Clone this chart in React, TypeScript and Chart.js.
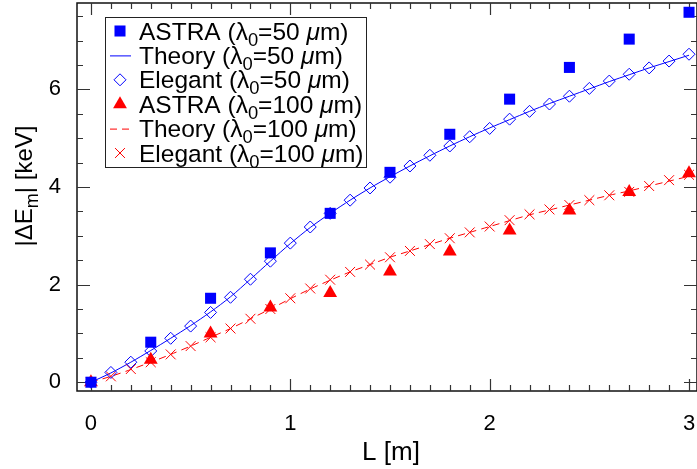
import React, { useEffect, useRef } from 'react';
import { Chart, registerables } from 'chart.js';
Chart.register(...registerables);

const FONT = '"Liberation Sans", Arial, sans-serif';

// ---- data ----
const L_ASTRA = [0, 0.3, 0.6, 0.9, 1.2, 1.5, 1.8, 2.1, 2.4, 2.7, 3.0];
const astra50 = [0, 0.82, 1.72, 2.65, 3.46, 4.3, 5.08, 5.8, 6.45, 7.03, 7.58];
const astra100 = [0, 0.46, 1.0, 1.53, 1.83, 2.27, 2.68, 3.11, 3.52, 3.9, 4.28];

const L_FINE = [0, 0.1, 0.2, 0.3, 0.4, 0.5, 0.6, 0.7, 0.8, 0.9, 1.0, 1.1, 1.2, 1.3, 1.4, 1.5, 1.6, 1.7, 1.8, 1.9, 2.0, 2.1, 2.2, 2.3, 2.4, 2.5, 2.6, 2.7, 2.8, 2.9, 3.0];
const elegant50 = [0, 0.2, 0.41, 0.64, 0.9, 1.15, 1.43, 1.74, 2.11, 2.48, 2.85, 3.18, 3.46, 3.73, 3.98, 4.2, 4.43, 4.65, 4.84, 5.03, 5.2, 5.39, 5.55, 5.7, 5.86, 6.02, 6.17, 6.31, 6.44, 6.58, 6.72];
const theory50 = [0, 0.19, 0.41, 0.65, 0.9, 1.16, 1.44, 1.75, 2.11, 2.48, 2.84, 3.17, 3.46, 3.73, 3.98, 4.21, 4.43, 4.64, 4.84, 5.03, 5.21, 5.38, 5.55, 5.71, 5.86, 6.01, 6.16, 6.3, 6.44, 6.57, 6.7];
const elegant100 = [0, 0.12, 0.27, 0.41, 0.57, 0.74, 0.92, 1.1, 1.3, 1.5, 1.72, 1.92, 2.1, 2.26, 2.41, 2.56, 2.69, 2.83, 2.95, 3.07, 3.19, 3.32, 3.44, 3.54, 3.63, 3.73, 3.83, 3.9, 4.02, 4.14, 4.25];
const theory100 = [0, 0.12, 0.26, 0.41, 0.57, 0.74, 0.92, 1.1, 1.3, 1.5, 1.71, 1.91, 2.09, 2.26, 2.41, 2.56, 2.69, 2.82, 2.95, 3.07, 3.19, 3.31, 3.43, 3.53, 3.63, 3.73, 3.83, 3.92, 4.02, 4.12, 4.22];

const LABELS = [
  'ASTRA (λ_0=50 μm)',
  'Theory (λ_0=50 μm)',
  'Elegant (λ_0=50 μm)',
  'ASTRA (λ_0=100 μm)',
  'Theory (λ_0=100 μm)',
  'Elegant (λ_0=100 μm)',
];

const X_TICKS = [0, 1, 2, 3];
const Y_TICKS = [0, 2, 4, 6];
const X_TITLE = 'L [m]';
const Y_TITLE = '|ΔE_m| [keV]';

const X_MIN = -0.07, X_MAX = 3.04, Y_MIN = -0.18, Y_MAX = 7.77;
const X_MINOR = 0.1, Y_MINOR = 0.5;

const BLUE = '#0000ff';
const RED = '#ff0000';

const pts = (xs: number[], ys: number[]) => xs.map((x, i) => ({ x, y: ys[i] }));

// rich text: "_c" => subscript char, μ => italic
function richWidth(ctx: CanvasRenderingContext2D, text: string, size: number) {
  let w = 0;
  for (let i = 0; i < text.length; i++) {
    let ch = text[i];
    if (ch === '_') {
      ch = text[++i];
      ctx.font = `${size * 0.75}px ${FONT}`;
    } else {
      ctx.font = ch === 'μ' ? `italic ${size}px ${FONT}` : `${size}px ${FONT}`;
    }
    w += ctx.measureText(ch).width;
  }
  return w;
}
function drawRich(ctx: CanvasRenderingContext2D, text: string, x: number, y: number, size: number) {
  let cx = x;
  for (let i = 0; i < text.length; i++) {
    let ch = text[i];
    let dy = 0;
    if (ch === '_') {
      ch = text[++i];
      ctx.font = `${size * 0.75}px ${FONT}`;
      dy = size * 0.25;
    } else {
      ctx.font = ch === 'μ' ? `italic ${size}px ${FONT}` : `${size}px ${FONT}`;
    }
    ctx.fillText(ch, cx, y + dy);
    cx += ctx.measureText(ch).width;
  }
}

const framePlugin = {
  id: 'frame',
  beforeDatasetsDraw(chart: any) {
    const { ctx, chartArea: a, scales } = chart;
    const xs = scales.x, ys = scales.y;
    ctx.save();
    ctx.strokeStyle = '#111';
    ctx.lineWidth = 1.5;
    ctx.strokeRect(a.left, a.top, a.right - a.left, a.bottom - a.top);
    ctx.lineWidth = 1.2;
    ctx.strokeStyle = '#333';
    ctx.beginPath();
    for (let v = Math.ceil(X_MIN / X_MINOR) * X_MINOR; v <= X_MAX + 1e-9; v += X_MINOR) {
      const r = Math.round(v * 10) / 10;
      const major = Math.abs(r - Math.round(r)) < 1e-6;
      const len = major ? 12 : 6;
      const px = Math.round(xs.getPixelForValue(r)) + 0.5;
      ctx.moveTo(px, a.bottom); ctx.lineTo(px, a.bottom - len);
      ctx.moveTo(px, a.top); ctx.lineTo(px, a.top + len);
    }
    for (let v = Math.ceil(Y_MIN / Y_MINOR) * Y_MINOR; v <= Y_MAX + 1e-9; v += Y_MINOR) {
      const major = Math.abs(v / 2 - Math.round(v / 2)) < 1e-6;
      const len = major ? 13 : 6;
      const py = Math.round(ys.getPixelForValue(v)) + 0.5;
      ctx.moveTo(a.left, py); ctx.lineTo(a.left + len, py);
      ctx.moveTo(a.right, py); ctx.lineTo(a.right - len, py);
    }
    ctx.stroke();
    ctx.restore();
  },
  afterDatasetsDraw(chart: any) {
    const { ctx, chartArea: a } = chart;
    ctx.save();
    ctx.fillStyle = '#000';
    ctx.textBaseline = 'alphabetic';
    // x title
    const xsize = 26;
    const xw = richWidth(ctx, X_TITLE, xsize);
    drawRich(ctx, X_TITLE, (a.left + a.right) / 2 + 4 - xw / 2, 460, xsize);
    // y title
    const ysize = 24;
    ctx.save();
    ctx.translate(32, 186);
    ctx.rotate(-Math.PI / 2);
    const yw = richWidth(ctx, Y_TITLE, ysize);
    drawRich(ctx, Y_TITLE, -yw / 2, 0, ysize);
    ctx.restore();

    // legend
    const bx = 105, by = 17, bw = 261, bh = 150;
    ctx.fillStyle = '#fff';
    ctx.fillRect(bx, by, bw, bh);
    ctx.strokeStyle = '#222';
    ctx.lineWidth = 1;
    ctx.strokeRect(bx + 0.5, by + 0.5, bw, bh);
    const ds = chart.data.datasets;
    const lsize = 24.5;
    for (let i = 0; i < 6; i++) {
      const d = ds[i];
      const cy = 31 + i * 24.4;
      const mx = 120;
      ctx.save();
      if (d.showLine) {
        ctx.strokeStyle = d.borderColor;
        ctx.lineWidth = 1;
        ctx.setLineDash(d.borderDash || []);
        ctx.beginPath();
        ctx.moveTo(110, cy + 0.5); ctx.lineTo(131, cy + 0.5);
        ctx.stroke();
      } else {
        const ps = d.pointStyle;
        const r = d.pointRadius;
        ctx.fillStyle = d.pointBackgroundColor;
        ctx.strokeStyle = d.pointBorderColor;
        ctx.lineWidth = d.pointBorderWidth;
        ctx.beginPath();
        if (ps === 'rect') {
          const s = Math.SQRT1_2 * r;
          ctx.rect(mx - s, cy - s, 2 * s, 2 * s);
          ctx.fill();
        } else if (ps === 'rectRot') {
          ctx.moveTo(mx - r, cy); ctx.lineTo(mx, cy - r); ctx.lineTo(mx + r, cy); ctx.lineTo(mx, cy + r); ctx.closePath();
          ctx.stroke();
        } else if (ps === 'triangle') {
          let ang = 0;
          ctx.moveTo(mx + Math.sin(ang) * r, cy - Math.cos(ang) * r);
          ang += (2 * Math.PI) / 3;
          ctx.lineTo(mx + Math.sin(ang) * r, cy - Math.cos(ang) * r);
          ang += (2 * Math.PI) / 3;
          ctx.lineTo(mx + Math.sin(ang) * r, cy - Math.cos(ang) * r);
          ctx.closePath();
          ctx.fill();
        } else if (ps === 'crossRot') {
          const o = Math.SQRT1_2 * r;
          ctx.moveTo(mx - o, cy - o); ctx.lineTo(mx + o, cy + o);
          ctx.moveTo(mx - o, cy + o); ctx.lineTo(mx + o, cy - o);
          ctx.stroke();
        }
      }
      ctx.restore();
      ctx.fillStyle = '#000';
      drawRich(ctx, LABELS[i], 139, cy + 8.5, lsize);
    }
    ctx.restore();
  },
};

const zeroPad = (s: any) => { s.paddingTop = 0; s.paddingBottom = 0; s.paddingLeft = 0; s.paddingRight = 0; };

export default function App() {
  const ref = useRef<HTMLCanvasElement>(null);
  useEffect(() => {
    if (!ref.current) return;
    const chart = new Chart(ref.current, {
      type: 'scatter',
      data: {
        datasets: [
          {
            label: LABELS[0], data: pts(L_ASTRA, astra50), showLine: false,
            pointStyle: 'rect', pointRadius: 7.8, pointBackgroundColor: BLUE, pointBorderColor: BLUE, pointBorderWidth: 0, order: 1,
          },
          {
            label: LABELS[1], data: pts(L_FINE, theory50), showLine: true, borderColor: BLUE, borderWidth: 1,
            pointRadius: 0, tension: 0.3, order: 3,
          },
          {
            label: LABELS[2], data: pts(L_FINE, elegant50), showLine: false,
            pointStyle: 'rectRot', pointRadius: 6, pointBackgroundColor: 'rgba(0,0,0,0)', pointBorderColor: BLUE, pointBorderWidth: 1, order: 2,
          },
          {
            label: LABELS[3], data: pts(L_ASTRA, astra100), showLine: false,
            pointStyle: 'triangle', pointRadius: 8, pointBackgroundColor: RED, pointBorderColor: RED, pointBorderWidth: 0, order: 1,
          },
          {
            label: LABELS[4], data: pts(L_FINE, theory100), showLine: true, borderColor: RED, borderWidth: 1, borderDash: [7, 5],
            pointRadius: 0, tension: 0.3, order: 3,
          },
          {
            label: LABELS[5], data: pts(L_FINE, elegant100), showLine: false,
            pointStyle: 'crossRot', pointRadius: 7, pointBackgroundColor: RED, pointBorderColor: RED, pointBorderWidth: 1, order: 2,
          },
        ] as any,
      },
      options: {
        animation: false,
        responsive: false,
        maintainAspectRatio: false,
        events: [],
        layout: { autoPadding: false, padding: { top: 3, right: 0, left: 0, bottom: 0 } },
        plugins: { legend: { display: false }, tooltip: { enabled: false } },
        scales: {
          x: {
            type: 'linear', min: X_MIN, max: X_MAX,
            grid: { display: false, drawTicks: false },
            border: { display: false },
            ticks: { font: { family: FONT, size: 22 }, color: '#000', padding: 20, maxRotation: 0 },
            afterBuildTicks: (s: any) => { s.ticks = X_TICKS.map((v) => ({ value: v })); },
            afterFit: (s: any) => { s.height = 78; zeroPad(s); },
          },
          y: {
            type: 'linear', min: Y_MIN, max: Y_MAX,
            grid: { display: false, drawTicks: false },
            border: { display: false },
            ticks: { font: { family: FONT, size: 22 }, color: '#000', padding: 16 },
            afterBuildTicks: (s: any) => { s.ticks = Y_TICKS.map((v) => ({ value: v })); },
            afterFit: (s: any) => { s.width = 77; zeroPad(s); },
          },
        },
      } as any,
      plugins: [framePlugin],
    });
    return () => chart.destroy();
  }, []);
  return (
    <div style={{ position: 'fixed', left: 0, top: 0, width: 697, height: 469, background: '#fff' }}>
      <canvas ref={ref} width={697} height={469} />
    </div>
  );
}
